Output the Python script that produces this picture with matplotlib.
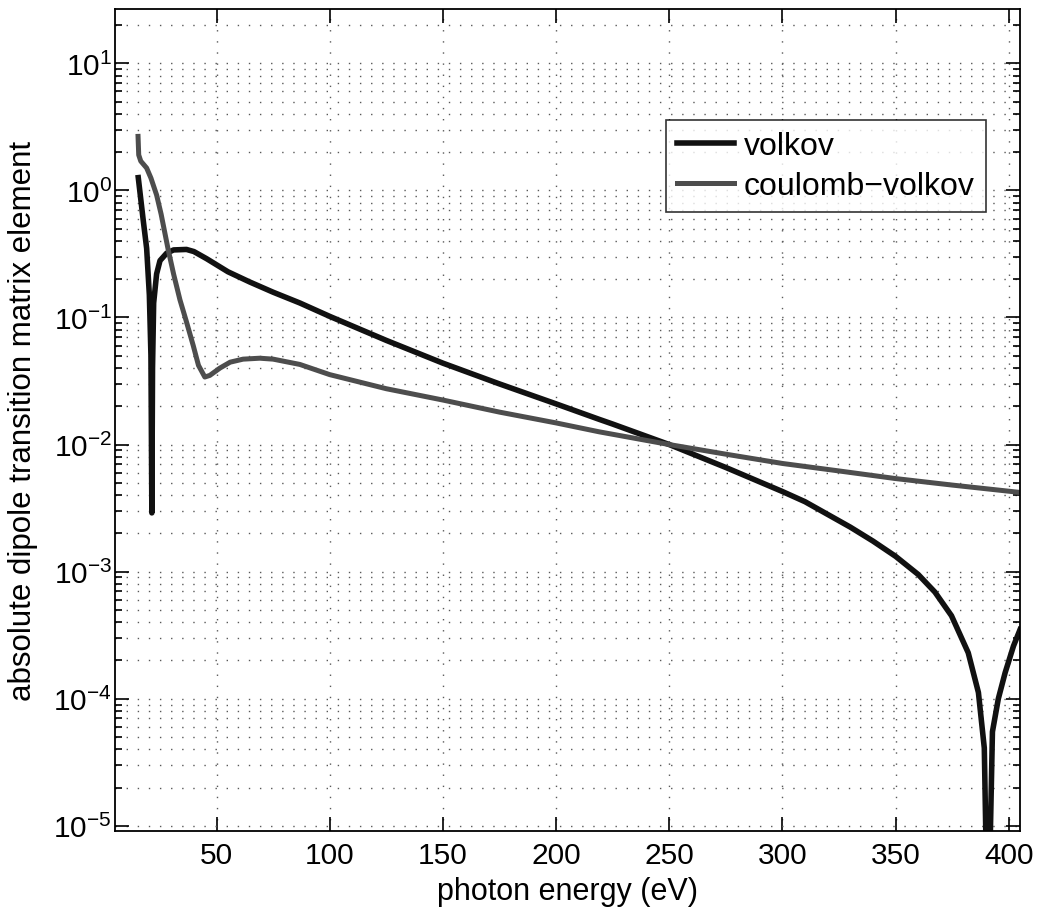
import numpy as np
import matplotlib
matplotlib.use("Agg")
import matplotlib.pyplot as plt
from matplotlib.ticker import FixedLocator

plt.rcParams["font.family"] = ["Liberation Sans", "DejaVu Sans"]
plt.rcParams["mathtext.fontset"] = "custom"
plt.rcParams["mathtext.rm"] = "Liberation Sans"
plt.rcParams["mathtext.it"] = "Liberation Sans:italic"

# volkov curve (photon energy in eV, matrix element)
volkov_e = [15.4, 17.5, 19.1, 20.3, 21.0, 21.4, 21.7, 22.2, 23.5, 25.0, 27.9,
            31.0, 36.7, 40.0, 45.6, 55.0, 64.7, 75.0, 86.8, 100, 125, 150,
            175, 200, 219, 225, 250, 275, 300, 310, 320, 330, 340, 350, 360,
            367.4, 374.7, 382.1, 386.6, 389.2, 390.8, 392.8, 395.4, 398.4,
            402.1, 405]
volkov_m = [1.26, 0.60, 0.35, 0.15, 0.05, 0.0029, 0.04, 0.13, 0.22, 0.28, 0.32,
            0.34, 0.343, 0.33, 0.29, 0.229, 0.19, 0.158, 0.130, 0.102, 0.066,
            0.0437, 0.030, 0.0209, 0.0158, 0.0145, 0.0100, 0.0066, 0.00427,
            0.00355, 0.00282, 0.00224, 0.00174, 0.00132, 0.00095, 0.00069,
            0.00045, 0.00023, 0.000112, 4.1e-5, 1e-6, 5.5e-5, 1.0e-4, 1.6e-4,
            2.6e-4, 3.5e-4]

# coulomb-volkov curve
cv_e = [15.3, 15.6, 16.5, 19.1, 21.0, 23.5, 25.5, 28.6, 31.0, 33.8, 36.5,
        39.7, 42.0, 44.8, 47.0, 51.5, 56.0, 61.7, 69.1, 75.0, 86.8, 100, 125,
        150, 175, 200, 219, 250, 275, 300, 325, 350, 375, 405]
cv_m = [2.66, 1.9, 1.7, 1.5, 1.25, 0.92, 0.65, 0.343, 0.22, 0.138, 0.095,
        0.060, 0.042, 0.034, 0.035, 0.040, 0.0445, 0.047, 0.0478, 0.047,
        0.0427, 0.0355, 0.0275, 0.0224, 0.0180, 0.0148, 0.0126, 0.0100,
        0.0084, 0.0071, 0.0062, 0.0054, 0.0048, 0.0042]

xticks = [50, 100, 150, 200, 250, 300, 350, 400]
ydecades = [-5, -4, -3, -2, -1, 0, 1]

fig = plt.figure(figsize=(10.43, 9.12), dpi=100)
ax = fig.add_axes([0.110, 0.0877, 0.868, 0.901])

ax.plot(volkov_e, volkov_m, color="#111111", lw=4.0, label="volkov")
ax.plot(cv_e, cv_m, color="#4d4d4d", lw=3.6, label="coulomb\u2212volkov")

ax.set_yscale("log")
ax.set_xlim(5, 405)
ax.set_ylim(9.1e-6, 26.6)

yminor = [m * 10.0 ** d for d in ydecades for m in range(2, 10)
          if m * 10.0 ** d < 26.6]
ax.xaxis.set_major_locator(FixedLocator(xticks))
ax.yaxis.set_major_locator(FixedLocator([10.0 ** d for d in ydecades]))
ax.yaxis.set_minor_locator(FixedLocator(yminor))
ax.yaxis.set_minor_formatter(plt.NullFormatter())

grid_style = dict(color="0.35", linestyle=(0, (1, 7)), linewidth=1.0)
ax.grid(True, which="major", axis="both", **grid_style)
ax.grid(True, which="minor", axis="y", **grid_style)

ax.tick_params(which="both", direction="in", top=True, right=True,
               labelsize=21.5, width=1.2)
ax.tick_params(which="major", length=10)
ax.tick_params(axis="x", which="major", pad=7)
ax.tick_params(axis="y", which="major", pad=2)
ax.tick_params(which="minor", length=5)
ax.tick_params(axis="x", which="minor", bottom=False, top=False)
for s in ax.spines.values():
    s.set_linewidth(1.3)

ax.set_xlabel("photon energy (eV)", fontsize=22, labelpad=5)
ax.set_ylabel("absolute dipole transition matrix element", fontsize=22.5, labelpad=11)

leg = ax.legend(loc="upper right", bbox_to_anchor=(0.9624, 0.865), fontsize=23,
                frameon=True, fancybox=False, edgecolor="black",
                handlelength=1.8, handletextpad=0.3, borderpad=0.35,
                labelspacing=0.3, borderaxespad=0)
leg.get_frame().set_linewidth(1.2)

fig.savefig("out.png", dpi=100)
